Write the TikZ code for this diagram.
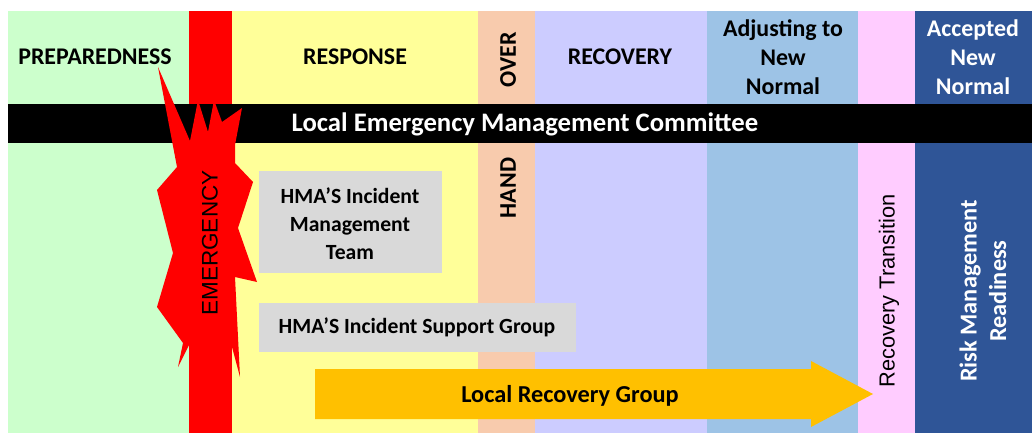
\documentclass[tikz,border=0pt]{standalone}
\usepackage{fontspec}
\setmainfont{Carlito}
\newfontfamily\arialfont{Liberation Sans}
\usepackage{xcolor}
\usepackage{tikz}
\usetikzlibrary{calc}
\definecolor{prepgreen}{HTML}{CCFFCC}
\definecolor{respyellow}{HTML}{FFFF99}
\definecolor{handpeach}{HTML}{F8CBAD}
\definecolor{recolilac}{HTML}{CCCCFF}
\definecolor{adjblue}{HTML}{9DC3E6}
\definecolor{transpink}{HTML}{FFCCFF}
\definecolor{accblue}{HTML}{2F5597}
\definecolor{boxgray}{HTML}{D9D9D9}
\definecolor{lrgorange}{HTML}{FFC000}
\begin{document}
\begin{tikzpicture}[x=0.025cm,y=-0.025cm,
    phase/.style={font=\fontsize{17}{20.5}\selectfont\bfseries, align=center},
    boxtext/.style={font=\fontsize{15.4}{20}\selectfont\bfseries, align=center},
    arialtext/.style={font=\arialfont\fontsize{16}{19}\selectfont, rotate=90}]
    %GRID
    %\draw[lightgray] (0,0) grid (1032,433);
    \useasboundingbox (0,0) rectangle (1032,433);
    %STRIPS
    \fill[prepgreen] (8,11) rectangle (190,433);
    \fill[red] (189,11) rectangle (232,433);
    \fill[respyellow] (232,11) rectangle (478,433);
    \fill[handpeach] (478,11) rectangle (535,433);
    \fill[recolilac] (535,11) rectangle (707,433);
    \fill[adjblue] (707,11) rectangle (858,433);
    \fill[transpink] (858,11) rectangle (915,433);
    \fill[accblue] (915,11) rectangle (1032,433);
    %COMMITTEE
    \fill[black] (8,104) rectangle (1032,143);
    \node[phase, text=white, font=\fontsize{19}{22}\selectfont\bfseries] (lemc) at (525,124) {Local Emergency Management Committee};
    %EMERGENCY
    \fill[red] (158,67) -- (190,141) -- (198,100) -- (208,132) -- (214,100) -- (222,122) -- (242,108)
        -- (235,145) -- (235,163) -- (253,182) -- (238,228) -- (257,282) -- (235,277) -- (240,377)
        -- (232,347) -- (189,345) -- (178,367) -- (183,343) -- (157,307) -- (173,253) -- (157,190)
        -- (177,167) -- cycle;
    \node[arialtext] (emergency) at (210,243) {EMERGENCY};
    %PHASES
    \node[phase] (prep) at (95,57) {PREPAREDNESS};
    \node[phase] (resp) at (355,57) {RESPONSE};
    \node[phase, rotate=90] (over) at (508,60) {OVER};
    \node[phase, rotate=90] (hand) at (508,188) {HAND};
    \node[phase] (reco) at (620,57) {RECOVERY};
    \node[phase] (adjust) at (783,57) {Adjusting to\\New\\Normal};
    \node[phase, text=white] (accept) at (973,57) {Accepted\\New\\Normal};
    %KOTAK
    \fill[boxgray] (259,171) rectangle (442,273);
    \node[boxtext] (imt) at (350,224) {HMA'S Incident\\Management\\Team};
    \fill[boxgray] (259,303) rectangle (576,352);
    \node[boxtext] (isg) at (417,327) {HMA'S Incident Support Group};
    %PANAH
    \fill[lrgorange] (315,369) -- (811,369) -- (811,361) -- (873,394) -- (811,427) -- (811,419) -- (315,419) -- cycle;
    \node[phase, font=\fontsize{17.3}{20}\selectfont\bfseries] (lrg) at (570,396) {Local Recovery Group};
    %TRANSITION
    \node[arialtext, font=\arialfont\fontsize{15.5}{19}\selectfont] (transition) at (889,291) {Recovery Transition};
    \node[phase, rotate=90, text=white, font=\fontsize{17.3}{21}\selectfont\bfseries] (readiness) at (983,291) {Risk Management\\Readiness};
\end{tikzpicture}
\end{document}
